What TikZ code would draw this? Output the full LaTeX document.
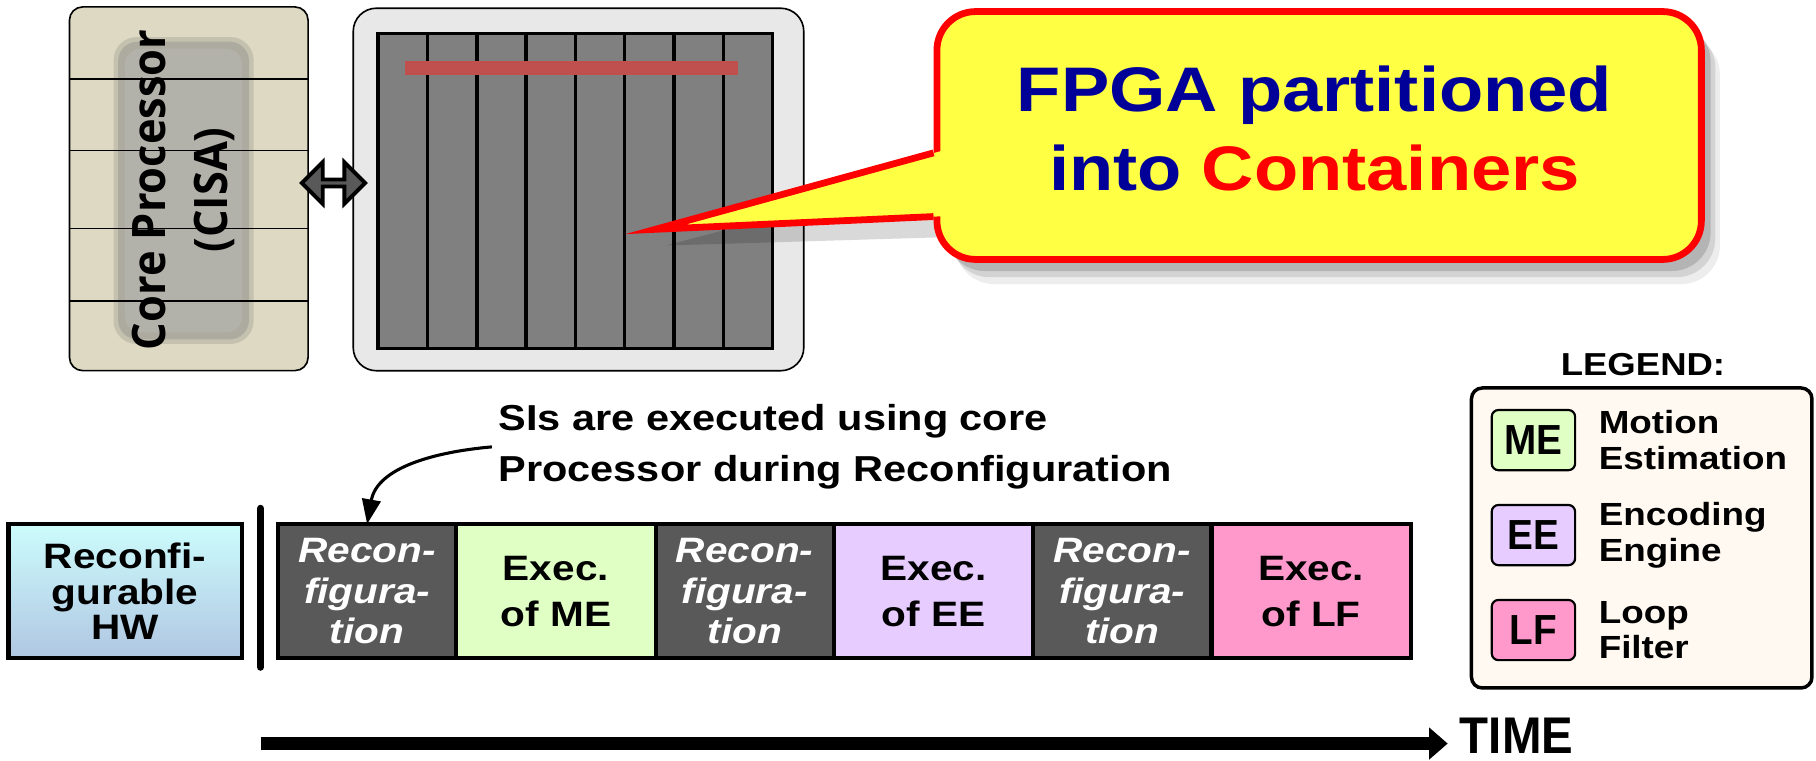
\documentclass[tikz,border=0pt]{standalone}
\usepackage{fontspec}
\setmainfont{Liberation Sans}[FakeStretch=1.15]
\newfontfamily\tallfont{Liberation Sans}[FakeStretch=0.92]
\newfontfamily\corefont{Open Sans}[FakeStretch=0.94]
\usetikzlibrary{arrows.meta, positioning, shapes.arrows, calc}

\definecolor{corebeige}{HTML}{DDD9C3}
\definecolor{corestrip}{HTML}{B3B2AA}
\definecolor{fpgaframe}{HTML}{E8E8E8}
\definecolor{fpgagray}{HTML}{808080}
\definecolor{tracered}{HTML}{C0504D}
\definecolor{linkgray}{HTML}{595959}
\definecolor{bubbleyellow}{HTML}{FFFF44}
\definecolor{bubblered}{HTML}{FF0000}
\definecolor{fpganavy}{HTML}{000099}
\definecolor{reconfgray}{HTML}{595959}
\definecolor{megreen}{HTML}{DFFFC4}
\definecolor{eelilac}{HTML}{E6CCFF}
\definecolor{lfpink}{HTML}{FF99CC}
\definecolor{hwtop}{HTML}{CCFCFC}
\definecolor{hwbottom}{HTML}{B0C6E2}
\definecolor{legendbg}{HTML}{FFF9F2}

\begin{document}
\begin{tikzpicture}
[x=0.015cm, y=-0.015cm,
seg/.style={draw=black, line width=1.5pt, minimum height=1.74cm,
            inner sep=0pt, outer sep=0pt, align=center},
reconf/.style={seg, fill=reconfgray, text=white, minimum width=2.31cm,
               font=\bfseries\itshape\fontsize{13}{15}\selectfont},
exec/.style={seg, fill=#1, minimum width=2.58cm,
             font=\bfseries\fontsize{13}{17}\selectfont},
keybox/.style={draw=black, line width=0.8pt, rounded corners=2.5pt, fill=#1,
               minimum width=1.08cm, minimum height=0.78cm, inner sep=0pt,
               font=\tallfont\bfseries\fontsize{15.5}{16}\selectfont},
keylabel/.style={inner sep=0pt, align=left,
                 font=\bfseries\fontsize{11.8}{13.1}\selectfont},
bubble/.style={draw=bubblered, line width=2.5pt, fill=bubbleyellow,
               rounded corners=0.5cm, minimum width=9.9cm, minimum height=3.21cm,
               preaction={fill=black, opacity=0.07, transform canvas={shift={(0.24cm,-0.32cm)}}},
               preaction={fill=black, opacity=0.11, transform canvas={shift={(0.18cm,-0.23cm)}}},
               preaction={fill=black, opacity=0.15, transform canvas={shift={(0.12cm,-0.15cm)}}}}
]
    \useasboundingbox (0,0) rectangle (1568,657);

    % core processor
    \node[draw=black, line width=0.6pt, rounded corners=0.17cm, fill=corebeige,
          minimum width=3.09cm, minimum height=4.71cm] (core) at (163,163) {};
    \fill[corestrip!70!black, opacity=0.25, rounded corners=0.3cm] (98,32) rectangle (219,297);
    \fill[corestrip!85!black, opacity=0.5, rounded corners=0.25cm] (102,36) rectangle (215,293);
    \fill[corestrip, rounded corners=0.2cm] (108,42) rectangle (209,287);
    \draw[line width=0.6pt] (60,68.2) -- (266,68.2) (60,130.1) -- (266,130.1)
        (60,197.2) -- (266,197.2) (60,259.7) -- (266,259.7);
    \node[rotate=90, align=center, font=\corefont\bfseries\fontsize{17}{22.7}\selectfont]
        (coretext) at (158.5,164) {Core Processor\\(CISA)};

    % fpga
    \node[draw=black, line width=0.6pt, rounded corners=0.3cm, fill=fpgaframe,
          minimum width=5.835cm, minimum height=4.695cm] (fpga) at (499.5,163.6) {};
    \node[draw=black, line width=0.05cm, fill=fpgagray, minimum width=5.106cm,
          minimum height=4.08cm, inner sep=0pt] (grid) at (496.8,164.9) {};
    \draw[line width=0.045cm] (369.2,28.8) -- (369.2,300.9) (411.7,28.8) -- (411.7,300.9)
        (454.3,28.8) -- (454.3,300.9) (496.8,28.8) -- (496.8,300.9) (539.4,28.8) -- (539.4,300.9)
        (581.9,28.8) -- (581.9,300.9) (624.5,28.8) -- (624.5,300.9);
    \fill[tracered] (349.7,53) rectangle (637,65);
    \node[double arrow, draw=black, line width=0.05cm, fill=linkgray, inner sep=0pt,
          minimum width=0.54cm, minimum height=0.82cm,
          double arrow head extend=0.123cm] (link) at (288,158) {};

    % callout
    \coordinate (tip) at (566,198);
    \fill[black, opacity=0.15] (809,150) -- (575,212) -- (809,205) -- cycle;
    \node[bubble] (bubble) at (1139,117) {};
    \fill[bubbleyellow] ($(bubble.west)+(8,13)$) -- (tip) -- ($(bubble.west)+(8,69.7)$) -- cycle;
    \draw[bubblered, line width=2.5pt, line join=miter]
        ($(bubble.west)+(0,15)$) -- (tip) -- ($(bubble.west)+(0,70)$);
    \node[align=center, text=fpganavy, font=\bfseries\fontsize{23.2}{28.9}\selectfont]
        (fpgatext) at (1135,111) {FPGA partitioned\\into \textcolor{bubblered}{Containers}};

    % timeline
    \node[draw=black, line width=1.5pt, top color=hwtop, bottom color=hwbottom,
          minimum width=3.02cm, minimum height=1.74cm, align=center,
          font=\bfseries\fontsize{13}{13}\selectfont] (hw) at (108,510.5)
          {Reconfi-\\gurable\\HW};
    \draw[line width=0.095cm, line cap=round] (225,439) -- (225,576);
    \node[reconf] (reconfa) at (317,510.5) {Recon-\\figura-\\tion};
    \node[exec=megreen, right=0pt of reconfa] (execme) {Exec.\\of ME};
    \node[reconf, right=0pt of execme] (reconfb) {Recon-\\figura-\\tion};
    \node[exec=eelilac, right=0pt of reconfb] (execee) {Exec.\\of EE};
    \node[reconf, right=0pt of execee] (reconfc) {Recon-\\figura-\\tion};
    \node[exec=lfpink, right=0pt of reconfc] (execlf) {Exec.\\of LF};

    \node[anchor=north west, inner sep=0pt, align=left,
          font=\bfseries\fontsize{13.3}{18.6}\selectfont] (note) at (430,349)
          {SIs are executed using core\\Processor during Reconfiguration};
    \draw[line width=0.04cm, -{Triangle[length=0.32cm, width=0.24cm]}]
        ([xshift=-0.08cm]note.west) to[out=185, in=80] (reconfa.north);

    % legend
    \node[font=\bfseries\fontsize{11.7}{12}\selectfont] (legendtitle) at (1418.6,314.5) {LEGEND:};
    \node[draw=black, line width=0.045cm, rounded corners=4pt, fill=legendbg,
          minimum width=4.41cm, minimum height=3.885cm] (legend) at (1417.5,464.5) {};
    \node[keybox=megreen] (keyme) at (1324,380) {ME};
    \node[keybox=eelilac] (keyee) at (1324,462) {EE};
    \node[keybox=lfpink] (keylf) at (1324,544) {LF};
    \node[keylabel, right=0.285cm of keyme] (labelme) {Motion\\Estimation};
    \node[keylabel, right=0.285cm of keyee] (labelee) {Encoding\\Engine};
    \node[keylabel, right=0.285cm of keylf] (labellf) {Loop\\Filter};

    % time axis
    \coordinate (tstart) at (225,642);
    \coordinate (tend) at (1250,642);
    \node[anchor=west, inner sep=0pt, font=\tallfont\bfseries\fontsize{19}{19}\selectfont]
        (time) at (1260,635) {TIME};
    \draw[line width=0.18cm, -{Triangle[length=0.24cm, width=0.4cm]}] (tstart) -- (tend);
\end{tikzpicture}
\end{document}
